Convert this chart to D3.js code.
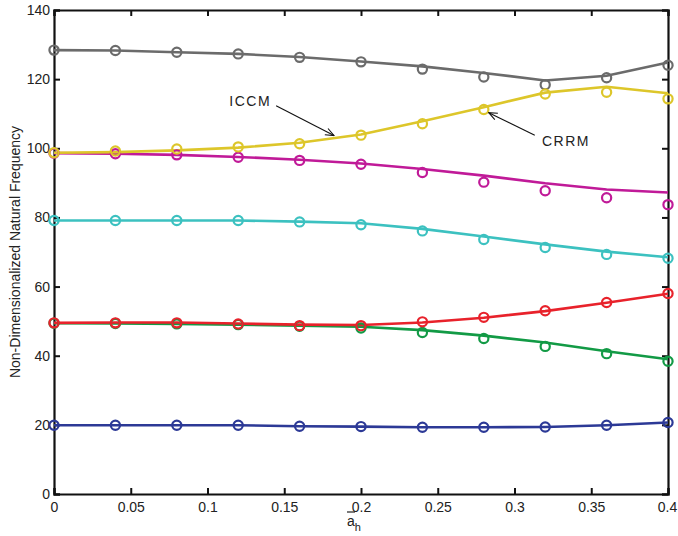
<!DOCTYPE html>
<html>
<head>
<meta charset="utf-8">
<script src="https://cdnjs.cloudflare.com/ajax/libs/d3/7.8.5/d3.min.js"></script>
<style>
  body { margin: 0; background: #fff; }
  svg text { font-family: "Liberation Sans", Arial, sans-serif; fill: #222; }
  .axis path, .axis line { stroke: #111; }
</style>
</head>
<body>
<script>
// x values (a_h bar) and the seven modes, ICCM = line, CRRM = circles
const xs = [0, 0.04, 0.08, 0.12, 0.16, 0.2, 0.24, 0.28, 0.32, 0.36, 0.4];

const iccmGray    = [128.4, 128.3, 127.8, 127.3, 126.4, 125.1, 123.7, 121.8, 119.6, 121.0, 124.8];
const crrmGray    = [128.4, 128.3, 127.8, 127.3, 126.3, 125.0, 122.9, 120.6, 118.4, 120.4, 124.0];
const iccmYellow  = [98.7, 98.9, 99.4, 100.2, 101.6, 104.0, 107.8, 111.9, 116.1, 117.8, 115.9];
const crrmYellow  = [98.7, 99.2, 99.8, 100.4, 101.3, 103.8, 107.1, 111.2, 115.7, 116.2, 114.3];
const iccmMagenta = [98.6, 98.4, 98.1, 97.5, 96.7, 95.6, 94.0, 92.1, 89.9, 88.1, 87.2];
const crrmMagenta = [98.6, 98.4, 98.1, 97.4, 96.5, 95.4, 93.0, 90.2, 87.7, 85.7, 83.7];
const iccmCyan    = [79.1, 79.1, 79.1, 79.1, 78.8, 78.3, 76.7, 74.5, 72.2, 70.1, 68.5];
const crrmCyan    = [79.1, 79.1, 79.1, 79.1, 78.7, 77.9, 76.1, 73.6, 71.3, 69.3, 68.2];
const iccmRed     = [49.5, 49.6, 49.6, 49.3, 49.0, 48.9, 49.6, 51.0, 52.9, 55.3, 57.9];
const crrmRed     = [49.5, 49.5, 49.5, 49.2, 48.7, 48.7, 49.8, 51.1, 53.0, 55.4, 58.0];
const iccmGreen   = [49.4, 49.3, 49.2, 49.0, 48.7, 48.4, 47.4, 45.8, 43.8, 41.3, 39.0];
const crrmGreen   = [49.4, 49.3, 49.2, 49.0, 48.5, 48.0, 46.7, 45.0, 42.7, 40.6, 38.4];
const iccmBlue    = [19.9, 19.9, 19.9, 19.9, 19.6, 19.5, 19.3, 19.3, 19.4, 19.9, 20.7];
const crrmBlue    = [19.9, 19.9, 19.9, 19.9, 19.6, 19.5, 19.3, 19.3, 19.4, 19.9, 20.7];

const xTicks = [0, 0.05, 0.1, 0.15, 0.2, 0.25, 0.3, 0.35, 0.4];
const yTicks = [0, 20, 40, 60, 80, 100, 120, 140];

const series = [
    { color: '#6b6b6b', line: iccmGray,    dots: crrmGray },
    { color: '#ddc62a', line: iccmYellow,  dots: crrmYellow },
    { color: '#c01a98', line: iccmMagenta, dots: crrmMagenta },
    { color: '#3cc1c0', line: iccmCyan,    dots: crrmCyan },
    { color: '#e8222b', line: iccmRed,     dots: crrmRed },
    { color: '#129a45', line: iccmGreen,   dots: crrmGreen },
    { color: '#2c3996', line: iccmBlue,    dots: crrmBlue }
];

// draw order: green under red, like the picture
const drawOrder = [0, 3, 5, 4, 6, 2, 1];

const width = 678, height = 536;
const margin = { top: 10, right: 10, bottom: 42, left: 54 };
const w = width - margin.left - margin.right;
const h = height - margin.top - margin.bottom;

const svg = d3.select('body').append('svg')
    .attr('width', width)
    .attr('height', height);

const defs = svg.append('defs');
defs.append('marker')
    .attr('id', 'arrow')
    .attr('viewBox', '0 0 10 10')
    .attr('refX', 9.5).attr('refY', 5)
    .attr('markerWidth', 10).attr('markerHeight', 10)
    .attr('markerUnits', 'userSpaceOnUse')
    .attr('orient', 'auto')
    .append('path')
    .attr('d', 'M1,1.5 L9.5,5 L1,8.5')
    .attr('fill', 'none')
    .attr('stroke', '#111')
    .attr('stroke-width', 1.1);

const g = svg.append('g')
    .attr('transform', 'translate(' + margin.left + ',' + margin.top + ')');

const xScale = d3.scaleLinear().domain([0, 0.4]).range([0, w]);
const yScale = d3.scaleLinear().domain([0, 140]).range([h, 0]);

// axes, ticks pointing inwards (matlab box)
g.append('g').attr('class', 'axis')
    .attr('transform', 'translate(0,' + h + ')')
    .call(d3.axisBottom(xScale).tickValues(xTicks).tickSize(-6).tickPadding(8)
        .tickFormat(d => d3.format('~g')(d)))
    .call(a => a.selectAll('text').style('font-size', '14px'))
    .call(a => a.selectAll('.tick:last-of-type text').attr('dx', -1));

g.append('g').attr('class', 'axis')
    .call(d3.axisTop(xScale).tickValues(xTicks).tickSize(-6).tickFormat(''));

g.append('g').attr('class', 'axis')
    .call(d3.axisLeft(yScale).tickValues(yTicks).tickSize(-6).tickPadding(4))
    .call(a => a.selectAll('text').style('font-size', '14px'));

g.append('g').attr('class', 'axis')
    .attr('transform', 'translate(' + w + ',0)')
    .call(d3.axisRight(yScale).tickValues(yTicks).tickSize(-6).tickFormat(''));

g.selectAll('.axis path.domain').attr('stroke-width', 2.2);
g.selectAll('.axis .tick line').attr('stroke-width', 2);

const line = d3.line()
    .x((d, i) => xScale(xs[i]))
    .y(d => yScale(d));

drawOrder.forEach(k => {
    let s = series[k];
    g.append('path')
        .datum(s.line)
        .attr('fill', 'none')
        .attr('stroke', s.color)
        .attr('stroke-width', 2.6)
        .attr('stroke-linejoin', 'round')
        .attr('d', line);
});

drawOrder.forEach(k => {
    let s = series[k];
    g.append('g')
        .selectAll('circle')
        .data(s.dots)
        .enter()
        .append('circle')
        .attr('cx', (d, i) => xScale(xs[i]))
        .attr('cy', d => yScale(d))
        .attr('r', 4.6)
        .attr('fill', 'none')
        .attr('stroke', s.color)
        .attr('stroke-width', 2.2);
});

// annotations
g.append('text')
    .attr('x', xScale(0.1414)).attr('y', yScale(113.8))
    .attr('text-anchor', 'end')
    .attr('dominant-baseline', 'central')
    .style('font-size', '14px')
    .style('letter-spacing', '1.5px')
    .text('ICCM');
g.append('line')
    .attr('x1', xScale(0.1447)).attr('y1', yScale(112.3))
    .attr('x2', xScale(0.1824)).attr('y2', yScale(103.7))
    .attr('stroke', '#111').attr('stroke-width', 1.1)
    .attr('marker-end', 'url(#arrow)');

g.append('text')
    .attr('x', xScale(0.3179)).attr('y', yScale(102.1))
    .attr('dominant-baseline', 'central')
    .style('font-size', '14px')
    .style('letter-spacing', '1.5px')
    .text('CRRM');
g.append('line')
    .attr('x1', xScale(0.3132)).attr('y1', yScale(103.8))
    .attr('x2', xScale(0.2832)).attr('y2', yScale(110.3))
    .attr('stroke', '#111').attr('stroke-width', 1.1)
    .attr('marker-end', 'url(#arrow)');

// axis labels
svg.append('text')
    .attr('transform', 'translate(20,' + (margin.top + h / 2) + ') rotate(-90)')
    .attr('text-anchor', 'middle')
    .style('font-size', '14px')
    .text('Non-Dimensionalized Natural Frequency');

const xl = svg.append('text')
    .attr('x', 347).attr('y', 526)
    .style('font-size', '14px');
xl.append('tspan').text('a');
xl.append('tspan').attr('dy', 5).style('font-size', '11px').text('h');
svg.append('line')
    .attr('x1', 347).attr('x2', 355)
    .attr('y1', 512).attr('y2', 512)
    .attr('stroke', '#222').attr('stroke-width', 1.2);
</script>
</body>
</html>
